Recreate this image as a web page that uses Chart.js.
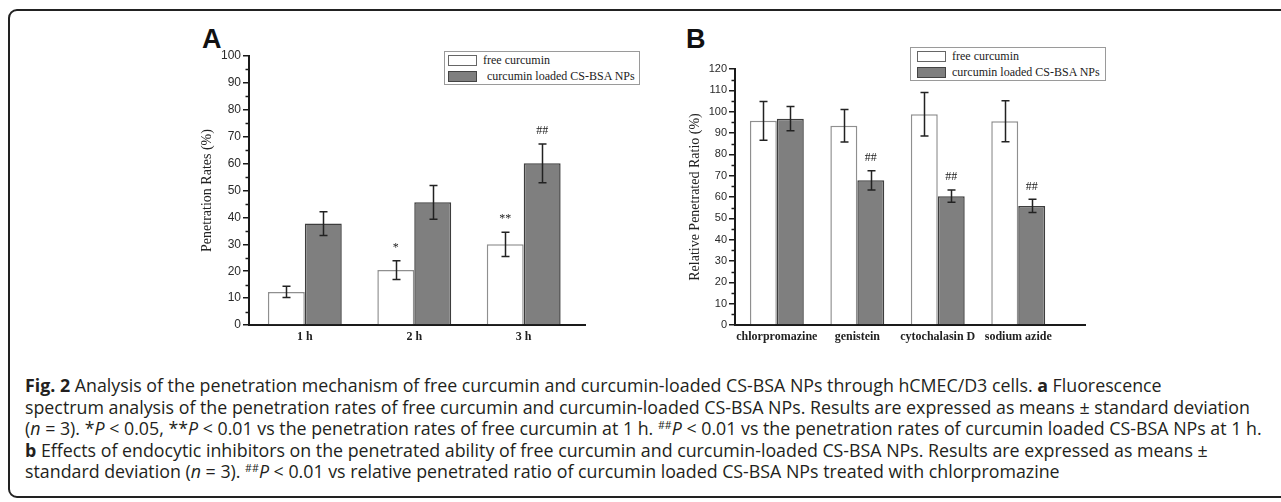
<!DOCTYPE html>
<html>
<head>
<meta charset="utf-8">
<script src="https://cdn.jsdelivr.net/npm/chart.js@4.4.1/dist/chart.umd.min.js"></script>
<style>
  html, body { margin: 0; padding: 0; background: #fff; width: 1281px; height: 502px; overflow: hidden; }
  #frame { position: absolute; left: 8px; top: 9px; width: 1320px; height: 489px; border: 2px solid #222; border-radius: 9px; box-sizing: border-box; }
  .tag { position: absolute; top: 26px; font: bold 27px "Liberation Sans", Arial, sans-serif; line-height: 27px; color: #111; }
  canvas { position: absolute; top: 40px; }
  .legend { position: absolute; height: 34px; box-sizing: border-box; border: 1px solid #9a9a9a; background: #fff;
            font: 12px "Liberation Serif", "Times New Roman", serif; color: #222; }
  .legend .row { height: 16px; display: flex; align-items: center; white-space: pre; }
  .legend .sw { display: inline-block; box-sizing: border-box; width: 29px; height: 11px; border: 1px solid #444; margin: 0 6px 0 6px; }
  #caption { position: absolute; left: 25px; top: 375px; font-family: "Open Sans", sans-serif; font-size: 15px;
             line-height: 21.5px; color: #231f20; white-space: nowrap; }
  #caption sup { font-size: 0.6em; vertical-align: 0.55em; line-height: 0; }
</style>
</head>
<body>
<div id="frame"></div>
<div class="tag" style="left:202px">A</div>
<div class="tag" style="left:686px">B</div>
<canvas id="chartA" width="420" height="320" style="left:180px"></canvas>
<canvas id="chartB" width="420" height="320" style="left:680px"></canvas>
<div class="legend" id="legendA" style="left:444px; top:51px; width:196px"></div>
<div class="legend" id="legendB" style="left:910px; top:47px; width:196px"></div>
<div id="caption">
<span><b>Fig. 2</b> Analysis of the penetration mechanism of free curcumin and curcumin-loaded CS-BSA NPs through hCMEC/D3 cells. <b>a</b> Fluorescence</span><br>
<span>spectrum analysis of the penetration rates of free curcumin and curcumin-loaded CS-BSA NPs. Results are expressed as means ± standard deviation</span><br>
<span id="longLine">(<i>n</i> = 3). *<i>P</i> &lt; 0.05, **<i>P</i> &lt; 0.01 vs the penetration rates of free curcumin at 1 h. <sup>##</sup><i>P</i> &lt; 0.01 vs the penetration rates of curcumin loaded CS-BSA NPs at 1 h.</span><br>
<span><b>b</b> Effects of endocytic inhibitors on the penetrated ability of free curcumin and curcumin-loaded CS-BSA NPs. Results are expressed as means ±</span><br>
<span>standard deviation (<i>n</i> = 3). <sup>##</sup><i>P</i> &lt; 0.01 vs relative penetrated ratio of curcumin loaded CS-BSA NPs treated with chlorpromazine</span>
</div>
<script>
// series
const seriesNames = ["free curcumin", "curcumin loaded CS-BSA NPs"];
const seriesFill = ["#ffffff", "#7f7f7f"];
const seriesBorder = ["#8f8f8f", "#3d3d3d"];

// panel A: penetration rates
const hours = ["1 h", "2 h", "3 h"];
const rateFree = [12.3, 20.4, 30.0];
const rateFreeSd = [2.1, 3.5, 4.5];
const rateNps = [37.7, 45.6, 60.1];
const rateNpsSd = [4.4, 6.3, 7.2];
const rateFreeMarks = ["", "*", "**"];
const rateNpsMarks = ["", "", "##"];
const rateTicks = [0, 10, 20, 30, 40, 50, 60, 70, 80, 90, 100];

// panel B: endocytic inhibitors
const inhibitors = ["chlorpromazine", "genistein", "cytochalasin D", "sodium azide"];
const ratioFree = [95.7, 93.4, 98.8, 95.5];
const ratioFreeSd = [9.1, 7.6, 10.2, 9.6];
const ratioNps = [96.7, 67.8, 60.4, 55.8];
const ratioNpsSd = [5.7, 4.5, 2.9, 3.1];
const ratioFreeMarks = ["", "", "", ""];
const ratioNpsMarks = ["", "##", "##", "##"];
const ratioTicks = [0, 10, 20, 30, 40, 50, 60, 70, 80, 90, 100, 110, 120];

const ink = "#1a1a1a";

// error bars + significance marks, placed with the chart's own scales
const errorBars = {
  id: "errorBars",
  afterDatasetsDraw(chart) {
    const ctx = chart.ctx;
    const ys = chart.scales.y;
    ctx.save();
    ctx.strokeStyle = "#222";
    ctx.fillStyle = "#222";
    ctx.lineWidth = 1.5;
    ctx.font = "12px 'Liberation Serif', serif";
    ctx.textAlign = "center";
    ctx.textBaseline = "middle";
    chart.data.datasets.forEach((ds, di) => {
      chart.getDatasetMeta(di).data.forEach((bar, i) => {
        const m = ds.data[i].y;
        const top = ys.getPixelForValue(m + ds.sd[i]);
        const bot = ys.getPixelForValue(m - ds.sd[i]);
        const x = Math.round(bar.x) + 0.5;
        ctx.beginPath();
        ctx.moveTo(x, top);
        ctx.lineTo(x, bot);
        ctx.moveTo(x - 4, top);
        ctx.lineTo(x + 4, top);
        ctx.moveTo(x - 4, bot);
        ctx.lineTo(x + 4, bot);
        ctx.stroke();
        if (ds.marks[i]) ctx.fillText(ds.marks[i], bar.x, top - 13);
      });
    });
    ctx.restore();
  },
};

// short minor ticks halfway between the labelled ones
const minorTicks = {
  id: "minorTicks",
  afterDraw(chart) {
    const ys = chart.scales.y;
    const x0 = chart.chartArea.left;
    const ctx = chart.ctx;
    ctx.save();
    ctx.strokeStyle = ink;
    ctx.lineWidth = 1.5;
    for (let i = 1; i < ys.ticks.length; i++) {
      const v = (ys.ticks[i - 1].value + ys.ticks[i].value) / 2;
      const py = Math.round(ys.getPixelForValue(v)) + 0.5;
      ctx.beginPath();
      ctx.moveTo(x0 - 3.5, py);
      ctx.lineTo(x0, py);
      ctx.stroke();
    }
    ctx.restore();
  },
};

function barChart(id, o) {
  const points = (arr) => arr.map((v, i) => ({ x: i, y: v }));
  return new Chart(document.getElementById(id), {
    type: "bar",
    data: {
      datasets: [
        {
          label: seriesNames[0],
          data: points(o.free),
          sd: o.freeSd,
          marks: o.freeMarks,
          backgroundColor: seriesFill[0],
          borderColor: seriesBorder[0],
          borderWidth: 1.5,
          categoryPercentage: o.catPct,
          barPercentage: 1,
        },
        {
          label: seriesNames[1],
          data: points(o.nps),
          sd: o.npsSd,
          marks: o.npsMarks,
          backgroundColor: seriesFill[1],
          borderColor: seriesBorder[1],
          borderWidth: 1.5,
          categoryPercentage: o.catPct,
          barPercentage: 1,
        },
      ],
    },
    options: {
      responsive: false,
      animation: false,
      devicePixelRatio: 1,
      layout: { padding: o.pad },
      plugins: {
        legend: { display: false },
        tooltip: { enabled: false },
      },
      scales: {
        x: {
          type: "linear",
          min: o.xMin,
          max: o.xMax,
          offset: false,
          bounds: "data",
          grid: { display: false, drawTicks: false, offset: false },
          border: { display: true, color: ink, width: 2 },
          ticks: {
            callback: (v) => o.cats[v],
            font: { family: "Liberation Serif", size: 12, weight: "bold" },
            color: "#222",
            padding: 5,
            maxRotation: 0,
            autoSkip: false,
          },
          afterBuildTicks: (s) => {
            s.ticks = o.cats.map((c, i) => ({ value: i }));
          },
          afterFit: (s) => {
            s.height = 27;
          },
        },
        y: {
          min: 0,
          max: o.ticks[o.ticks.length - 1],
          grid: { drawOnChartArea: false, tickLength: 6, color: ink, lineWidth: 1.5 },
          border: { color: ink, width: 2 },
          ticks: {
            font: { family: "Liberation Sans", size: o.tickSize },
            color: "#2a2a2a",
            padding: 2,
            autoSkip: false,
          },
          afterBuildTicks: (s) => {
            s.ticks = o.ticks.map((v) => ({ value: v }));
          },
          afterFit: (s) => {
            s.width = o.yWidth;
          },
          title: {
            display: true,
            text: o.title,
            font: { family: "Liberation Serif", size: 14 },
            color: "#222",
            padding: { top: o.titlePad, bottom: 0 },
          },
        },
      },
    },
    plugins: [errorBars, minorTicks],
  });
}

barChart("chartA", {
  cats: hours,
  free: rateFree, freeSd: rateFreeSd, freeMarks: rateFreeMarks,
  nps: rateNps, npsSd: rateNpsSd, npsMarks: rateNpsMarks,
  ticks: rateTicks,
  title: "Penetration Rates (%)",
  xMin: -0.51, xMax: 2.56, catPct: 0.675,
  pad: { top: 16, left: 0, right: 15, bottom: 8 },
  yWidth: 69, titlePad: 19, tickSize: 12,
});

barChart("chartB", {
  cats: inhibitors,
  free: ratioFree, freeSd: ratioFreeSd, freeMarks: ratioFreeMarks,
  nps: ratioNps, npsSd: ratioNpsSd, npsMarks: ratioNpsMarks,
  ticks: ratioTicks,
  title: "Relative Penetrated Ratio (%)",
  xMin: -0.52, xMax: 3.83, catPct: 0.67,
  pad: { top: 29, left: 0, right: 15, bottom: 8 },
  yWidth: 55, titlePad: 7, tickSize: 11,
});

// html legends built from the series arrays
function fillLegend(id, lead) {
  const box = document.getElementById(id);
  seriesNames.forEach((name, i) => {
    const row = document.createElement("div");
    row.className = "row";
    const sw = document.createElement("span");
    sw.className = "sw";
    sw.style.background = seriesFill[i];
    sw.style.borderColor = i === 0 ? "#666" : "#444";
    sw.style.marginLeft = lead[0] + "px";
    const txt = document.createElement("span");
    txt.textContent = name;
    txt.style.marginLeft = lead[1 + i] + "px";
    row.appendChild(sw);
    row.appendChild(txt);
    box.appendChild(row);
  });
}
fillLegend("legendA", [3, 0, 4]);
fillLegend("legendB", [6, 0, 0]);

// caption: fit the longest line to the width it has in the figure
const cap = document.getElementById("caption");
const w = document.getElementById("longLine").getBoundingClientRect().width;
cap.style.fontSize = (15 * 1237) / w + "px";
</script>
</body>
</html>
